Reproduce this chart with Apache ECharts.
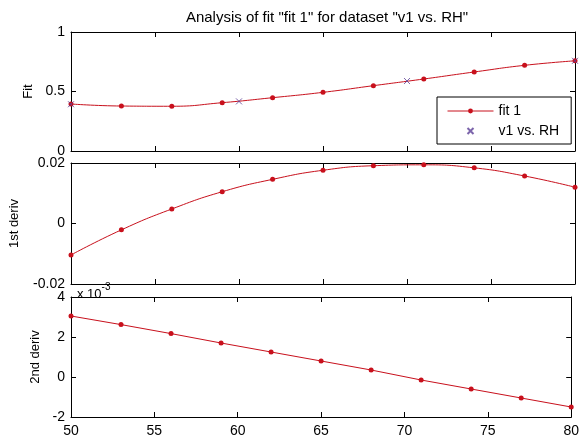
<!DOCTYPE html>
<html>
<head>
<meta charset="utf-8">
<script src="https://cdn.jsdelivr.net/npm/echarts@6/dist/echarts.min.js"></script>
<style>
  html, body { margin: 0; padding: 0; background: #fff; }
  #chart { width: 582px; height: 441px; }
</style>
</head>
<body>
<div id="chart"></div>
<script>
// x values of the fit evaluation points
const xFit = [50, 53, 56, 59, 62, 65, 68, 71, 74, 77, 80];
// fit values
const fitVals = [0.395, 0.378, 0.376, 0.406, 0.448, 0.493, 0.549, 0.605, 0.664, 0.72, 0.758];
// dataset points (v1 vs. RH)
const xData = [50, 60, 70, 80];
const dataVals = [0.393, 0.417, 0.588, 0.758];
// 1st derivative
const deriv1 = [-0.0104, -0.0021, 0.0048, 0.0105, 0.0146, 0.0176, 0.0191, 0.0194, 0.0184, 0.0157, 0.0120];
// 2nd derivative (x 10^-3)
const deriv2 = [3.05, 2.62, 2.17, 1.70, 1.25, 0.80, 0.35, -0.15, -0.60, -1.05, -1.50];

const chart = echarts.init(document.getElementById('chart'));

const font = 'Liberation Sans, Arial, sans-serif';
const red = '#c8101c';
const dataColor = '#5b3f96';

function pairs(xs, ys) {
  return xs.map((x, i) => [x, ys[i]]);
}

const grids = [
  { left: 71, right: 7, top: 32, height: 119 },
  { left: 71, right: 7, top: 163, height: 121 },
  { left: 71, right: 7, top: 297, height: 120 }
];

const lineStyleAxis = { color: '#000', width: 1 };

let xAxes = [];
let yAxes = [];
const yCfg = [
  { min: 0, max: 1, interval: 0.5, name: 'Fit', gap: 36 },
  { min: -0.02, max: 0.02, interval: 0.02, name: '1st deriv', gap: 50 },
  { min: -2, max: 4, interval: 2, name: '2nd deriv', gap: 28 }
];

for (let g = 0; g < 3; g++) {
  ['bottom', 'top'].forEach(function (pos) {
    xAxes.push({
      type: 'value',
      gridIndex: g,
      position: pos,
      min: 50, max: 80, interval: 5,
      axisLine: { show: true, onZero: false, lineStyle: lineStyleAxis },
      axisTick: { show: true, inside: true, length: 5, lineStyle: lineStyleAxis },
      axisLabel: {
        show: (g === 2 && pos === 'bottom'),
        color: '#000', fontSize: 14, fontFamily: font, margin: 7
      },
      splitLine: { show: false }
    });
  });
  ['left', 'right'].forEach(function (pos) {
    const c = yCfg[g];
    yAxes.push({
      type: 'value',
      gridIndex: g,
      position: pos,
      min: c.min, max: c.max, interval: c.interval,
      name: pos === 'left' ? c.name : '',
      nameLocation: 'middle',
      nameRotate: 90,
      nameGap: c.gap,
      nameTextStyle: { color: '#000', fontSize: 13, fontFamily: font },
      axisLine: { show: true, onZero: false, lineStyle: lineStyleAxis },
      axisTick: { show: true, inside: true, length: 5, lineStyle: lineStyleAxis },
      axisLabel: {
        show: pos === 'left',
        color: '#000', fontSize: 14, fontFamily: font, margin: 6
      },
      splitLine: { show: false }
    });
  });
}

const option = {
  backgroundColor: '#fff',
  animation: false,
  title: [
    {
      text: 'Analysis of fit "fit 1" for dataset "v1 vs. RH"',
      left: 322, top: 5, textAlign: 'center',
      textStyle: { color: '#000', fontSize: 15, fontWeight: 'normal', fontFamily: font }
    },
    {
      text: '{a|x 10}{b|-3}',
      left: 72, top: 277,
      textStyle: {
        fontWeight: 'normal',
        rich: {
          a: { color: '#000', fontSize: 13, fontWeight: 'normal', fontFamily: font, padding: [6, 0, 0, 0] },
          b: { color: '#000', fontSize: 10, fontWeight: 'normal', fontFamily: font, verticalAlign: 'top' }
        }
      }
    }
  ],
  legend: {
    left: 437, top: 97,
    orient: 'vertical',
    data: ['fit 1', 'v1 vs. RH'],
    backgroundColor: '#fff',
    borderColor: '#000',
    borderWidth: 1,
    borderRadius: 0,
    padding: [7, 12, 6, 10],
    itemGap: 6,
    itemWidth: 46,
    itemHeight: 6,
    lineStyle: { width: 1 },
    textStyle: { color: '#000', fontSize: 14, fontFamily: font }
  },
  grid: grids,
  xAxis: xAxes,
  yAxis: yAxes,
  series: [
    {
      name: 'fit 1', type: 'line',
      xAxisIndex: 0, yAxisIndex: 0,
      data: pairs(xFit, fitVals),
      smooth: true,
      symbol: 'circle', symbolSize: 5,
      itemStyle: { color: red },
      lineStyle: { color: red, width: 1 },
      z: 3
    },
    {
      name: 'v1 vs. RH', type: 'scatter',
      xAxisIndex: 0, yAxisIndex: 0,
      data: pairs(xData, dataVals),
      symbol: 'path://M0,0L10,10M10,0L0,10',
      symbolSize: 6,
      itemStyle: { color: 'transparent', borderColor: dataColor, borderWidth: 1 },
      z: 4
    },
    {
      name: 'deriv1', type: 'line',
      xAxisIndex: 2, yAxisIndex: 2,
      data: pairs(xFit, deriv1),
      smooth: true,
      symbol: 'circle', symbolSize: 5,
      itemStyle: { color: red },
      lineStyle: { color: red, width: 1 }
    },
    {
      name: 'deriv2', type: 'line',
      xAxisIndex: 4, yAxisIndex: 4,
      data: pairs(xFit, deriv2),
      symbol: 'circle', symbolSize: 5,
      itemStyle: { color: red },
      lineStyle: { color: red, width: 1 }
    }
  ]
};

chart.setOption(option);
</script>
</body>
</html>
